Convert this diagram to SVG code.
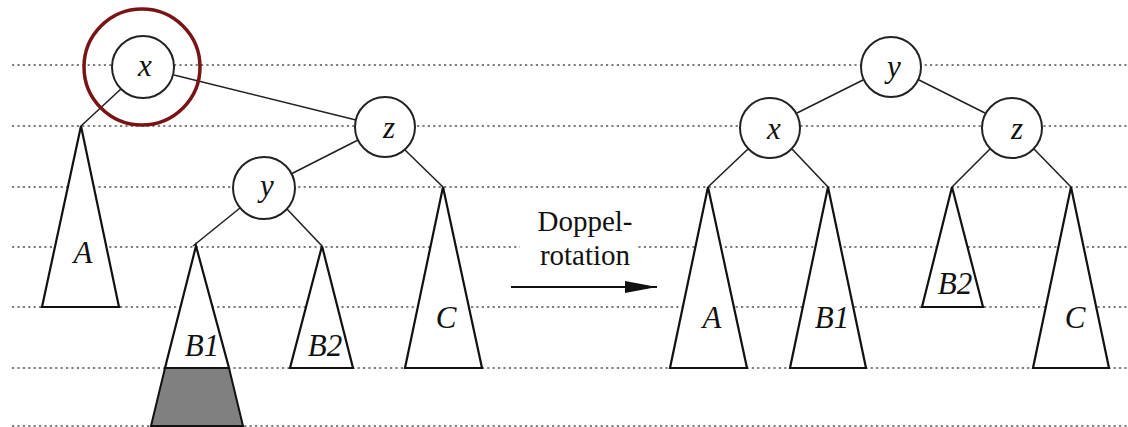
<svg xmlns="http://www.w3.org/2000/svg" width="1128" height="427" viewBox="0 0 1128 427">
<style>
.grid{stroke:#555;stroke-width:1.6;stroke-dasharray:2.2 3.2;fill:none}
.edge{stroke:#222;stroke-width:1.6;fill:none}
.node{fill:#fff;stroke:#222;stroke-width:2}
.tri{fill:#fff;stroke:#111;stroke-width:2.2;stroke-linejoin:miter}
.lbl{font-style:italic;font-size:31px;fill:#111;text-anchor:middle}
.txt{font-size:29px;fill:#111;text-anchor:middle}
</style>
<defs>
<marker id="ah" markerWidth="32" markerHeight="14" refX="32" refY="7" orient="auto" markerUnits="userSpaceOnUse">
<polygon points="0,1 32,7 0,13" fill="#111"/>
</marker>
</defs>
<rect width="1128" height="427" fill="#fff"/>
<g id="grid">
<line class="grid" x1="12" y1="65" x2="1128" y2="65"/>
<line class="grid" x1="12" y1="126" x2="1128" y2="126"/>
<line class="grid" x1="12" y1="187" x2="1128" y2="187"/>
<line class="grid" x1="12" y1="247" x2="1128" y2="247"/>
<line class="grid" x1="12" y1="307" x2="1128" y2="307"/>
<line class="grid" x1="12" y1="368" x2="1128" y2="368"/>
<line class="grid" x1="12" y1="426" x2="1128" y2="426"/>
</g>
<g id="connectors">
<line class="edge" x1="122" y1="88" x2="81" y2="126"/>
<line class="edge" x1="174" y1="75" x2="356" y2="120"/>
<line class="edge" x1="358" y1="140" x2="291" y2="174"/>
<line class="edge" x1="405" y1="150" x2="443" y2="187"/>
<line class="edge" x1="240" y1="208" x2="193" y2="246"/>
<line class="edge" x1="286" y1="208" x2="322" y2="246"/>
<line class="edge" x1="863" y1="80" x2="797" y2="113"/>
<line class="edge" x1="919" y1="80" x2="985" y2="113"/>
<line class="edge" x1="748" y1="149" x2="708" y2="187"/>
<line class="edge" x1="792" y1="149" x2="828" y2="187"/>
<line class="edge" x1="990" y1="149" x2="952" y2="187"/>
<line class="edge" x1="1034" y1="149" x2="1071" y2="187"/>
<line stroke="#111" stroke-width="2" x1="511" y1="287" x2="657" y2="287" marker-end="url(#ah)"/>
</g>
<g font-family="Liberation Serif, Times New Roman, DejaVu Serif, serif">
<g id="left-A"><polygon class="tri" points="81,126 42,307 119,307"/><text class="lbl" x="83" y="263">A</text></g>
<g id="left-B1">
<polygon points="165,368 229,368 243,426 151,426" fill="#808080" stroke="#111" stroke-width="2"/>
<polygon class="tri" points="196,246 165,368 229,368"/><text class="lbl" x="202" y="356">B1</text></g>
<g id="left-B2"><polygon class="tri" points="322,246 290,368 353,368"/><text class="lbl" x="325" y="356">B2</text></g>
<g id="left-C"><polygon class="tri" points="443,187 405,368 482,368"/><text class="lbl" x="446" y="328">C</text></g>
<g id="left-x"><circle class="node" cx="143" cy="67" r="31"/><text class="lbl" x="145" y="76">x</text></g>
<g id="highlight"><circle cx="142" cy="67" r="58" fill="none" stroke="#7a1414" stroke-width="3.5"/></g>
<g id="left-z"><circle class="node" cx="385" cy="127" r="30"/><text class="lbl" x="389" y="138">z</text></g>
<g id="left-y"><circle class="node" cx="264" cy="188" r="31"/><text class="lbl" x="267" y="196">y</text></g>
<g id="label-doppelrotation">
<rect x="520" y="204" width="118" height="66" fill="#fff"/>
<text class="txt" x="585" y="231">Doppel-</text>
<text class="txt" x="585" y="265">rotation</text>
</g>
<g id="right-A"><polygon class="tri" points="708,187 670,368 747,368"/><text class="lbl" x="712" y="328">A</text></g>
<g id="right-B1"><polygon class="tri" points="828,187 790,368 866,368"/><text class="lbl" x="832" y="328">B1</text></g>
<g id="right-B2"><polygon class="tri" points="952,187 922,307 983,307"/><text class="lbl" x="955" y="294">B2</text></g>
<g id="right-C"><polygon class="tri" points="1071,187 1033,368 1109,368"/><text class="lbl" x="1075" y="328">C</text></g>
<g id="right-y"><circle class="node" cx="891" cy="67" r="30"/><text class="lbl" x="894" y="77">y</text></g>
<g id="right-x"><circle class="node" cx="770" cy="128" r="30"/><text class="lbl" x="774" y="139">x</text></g>
<g id="right-z"><circle class="node" cx="1012" cy="128" r="30"/><text class="lbl" x="1017" y="139">z</text></g>
</g>
</svg>
